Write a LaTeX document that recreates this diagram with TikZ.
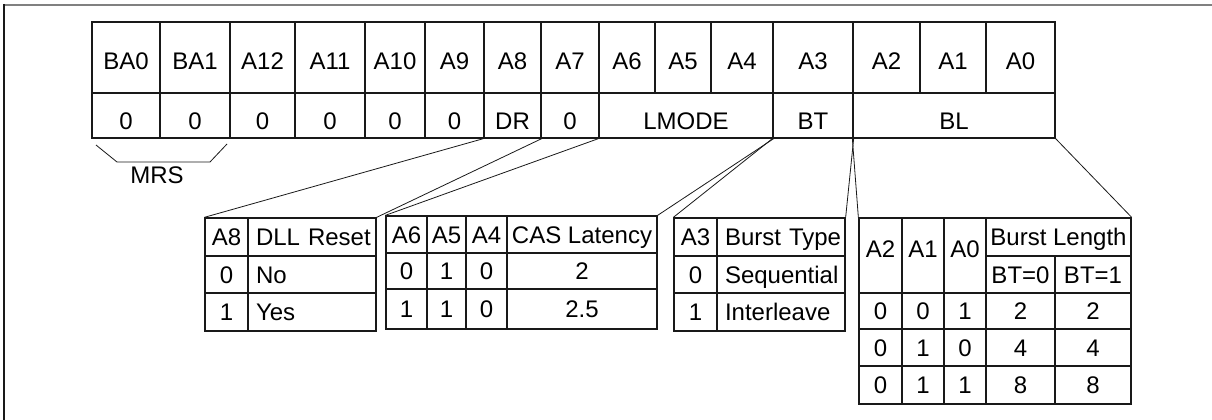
\documentclass[tikz,border=0pt]{standalone}
\usepackage{fontspec}
\setmainfont{Liberation Sans}
\begin{document}
\begin{tikzpicture}[x=1pt,y=-1pt,
  cell/.style={draw=black!90, line width=1.3pt, inner sep=0pt, text height=17.2pt, text depth=0pt, font=\fontsize{24}{28}\selectfont},
  lft/.style={inner xsep=8pt, text width=\tw pt, align=left},
  toprow/.style={text height=23.2pt},
  botrow/.style={text height=27.2pt},
  upshift/.style={text depth=14pt},
  conn/.style={draw=black!90, line width=0.8pt},
  lbl/.style={inner sep=0pt, font=\fontsize{24}{28}\selectfont}]
\newcommand\cellat[7][]{%
  \pgfmathsetmacro\cw{#5-#3}\pgfmathsetmacro\ch{#6-#4}%
  \pgfmathsetmacro\tw{#5-#3-16}%
  \pgfmathsetmacro\cx{(#3+#5)/2}\pgfmathsetmacro\cy{(#4+#6)/2}%
  \node[cell,minimum width=\cw pt,minimum height=\ch pt,#1] (#2) at (\cx,\cy) {\mbox{#7}};}
\useasboundingbox (0,0) rectangle (1212,420);
% frame
\draw[black!50, line width=2pt] (4,5) -- (1212,5);
\draw[black!90, line width=2pt] (4,4) -- (4,420);
% top register table
\cellat[toprow]{t1}{92}{22}{160}{93}{BA0}
\cellat[toprow]{t2}{160}{22}{230}{93}{BA1}
\cellat[toprow]{t3}{230}{22}{295}{93}{A12}
\cellat[toprow]{t4}{295}{22}{365}{93}{A11}
\cellat[toprow]{t5}{365}{22}{425}{93}{A10}
\cellat[toprow]{t6}{425}{22}{484}{93}{A9}
\cellat[toprow]{t7}{484}{22}{541}{93}{A8}
\cellat[toprow]{t8}{541}{22}{599}{93}{A7}
\cellat[toprow]{t9}{599}{22}{655}{93}{A6}
\cellat[toprow]{t10}{655}{22}{711}{93}{A5}
\cellat[toprow]{t11}{711}{22}{773}{93}{A4}
\cellat[toprow]{t12}{773}{22}{853}{93}{A3}
\cellat[toprow]{t13}{853}{22}{920}{93}{A2}
\cellat[toprow]{t14}{920}{22}{986}{93}{A1}
\cellat[toprow]{t15}{986}{22}{1055}{93}{A0}
\cellat[botrow]{b1}{92}{93}{160}{138}{0}
\cellat[botrow]{b2}{160}{93}{230}{138}{0}
\cellat[botrow]{b3}{230}{93}{295}{138}{0}
\cellat[botrow]{b4}{295}{93}{365}{138}{0}
\cellat[botrow]{b5}{365}{93}{425}{138}{0}
\cellat[botrow]{b6}{425}{93}{484}{138}{0}
\cellat[botrow]{b7}{484}{93}{541}{138}{DR}
\cellat[botrow]{b8}{541}{93}{599}{138}{0}
\cellat[botrow]{b9}{599}{93}{773}{138}{LMODE}
\cellat[botrow]{b10}{773}{93}{853}{138}{BT}
\cellat[botrow]{b11}{853}{93}{1055}{138}{BL}
% MRS bracket
\coordinate (m1) at (96,145);
\coordinate (m2) at (117,162);
\coordinate (m3) at (210,162);
\coordinate (m4) at (227,144);
\draw[conn] (m1) -- (m2) -- (m3) -- (m4);
\node[lbl] (mrs) at (157,175) {MRS};
% DLL table
\cellat{d11}{205}{218}{248}{256}{A8}
\cellat[lft]{d12}{248}{218}{376}{256}{DLL Reset}
\cellat{d21}{205}{256}{248}{293}{0}
\cellat[lft]{d22}{248}{256}{376}{293}{No}
\cellat{d31}{205}{293}{248}{331}{1}
\cellat[lft]{d32}{248}{293}{376}{331}{Yes}
% CAS table
\cellat{c11}{386}{216}{427}{253}{A6}
\cellat{c12}{427}{216}{466}{253}{A5}
\cellat{c13}{466}{216}{507}{253}{A4}
\cellat{c14}{507}{216}{657}{253}{CAS Latency}
\cellat{c21}{386}{253}{427}{289}{0}
\cellat{c22}{427}{253}{466}{289}{1}
\cellat{c23}{466}{253}{507}{289}{0}
\cellat{c24}{507}{253}{657}{289}{2}
\cellat{c31}{386}{289}{427}{329}{1}
\cellat{c32}{427}{289}{466}{329}{1}
\cellat{c33}{466}{289}{507}{329}{0}
\cellat{c34}{507}{289}{657}{329}{2.5}
% Burst type table
\cellat{s11}{674}{218}{717}{256}{A3}
\cellat[lft]{s12}{717}{218}{845}{256}{Burst Type}
\cellat{s21}{674}{256}{717}{293}{0}
\cellat[lft]{s22}{717}{256}{845}{293}{Sequential}
\cellat{s31}{674}{293}{717}{331}{1}
\cellat[lft]{s32}{717}{293}{845}{331}{Interleave}
% Burst length table
\cellat[upshift]{l11}{859}{218}{902}{293}{A2}
\cellat[upshift]{l12}{902}{218}{944}{293}{A1}
\cellat[upshift]{l13}{944}{218}{986}{293}{A0}
\cellat{l14}{986}{218}{1131}{256}{Burst Length}
\cellat{l24}{986}{256}{1055}{293}{BT=0}
\cellat{l25}{1055}{256}{1131}{293}{BT=1}
\cellat{l31}{859}{293}{902}{329}{0}
\cellat{l32}{902}{293}{944}{329}{0}
\cellat{l33}{944}{293}{986}{329}{1}
\cellat{l34}{986}{293}{1055}{329}{2}
\cellat{l35}{1055}{293}{1131}{329}{2}
\cellat{l41}{859}{329}{902}{366}{0}
\cellat{l42}{902}{329}{944}{366}{1}
\cellat{l43}{944}{329}{986}{366}{0}
\cellat{l44}{986}{329}{1055}{366}{4}
\cellat{l45}{1055}{329}{1131}{366}{4}
\cellat{l51}{859}{366}{902}{404}{0}
\cellat{l52}{902}{366}{944}{404}{1}
\cellat{l53}{944}{366}{986}{404}{1}
\cellat{l54}{986}{366}{1055}{404}{8}
\cellat{l55}{1055}{366}{1131}{404}{8}
% connectors
\draw[conn] (b7.south west) -- (d11.north west);
\draw[conn] (b7.south east) -- (d12.north east);
\draw[conn] (b9.south west) -- (c11.north west);
\draw[conn] (b9.south east) -- (c14.north east);
\draw[conn] (b10.south west) -- (s11.north west);
\draw[conn] (b10.south east) -- (s12.north east);
\draw[conn] (b11.south west) -- (l11.north west);
\draw[conn] (b11.south east) -- (l14.north east);
\end{tikzpicture}
\end{document}
